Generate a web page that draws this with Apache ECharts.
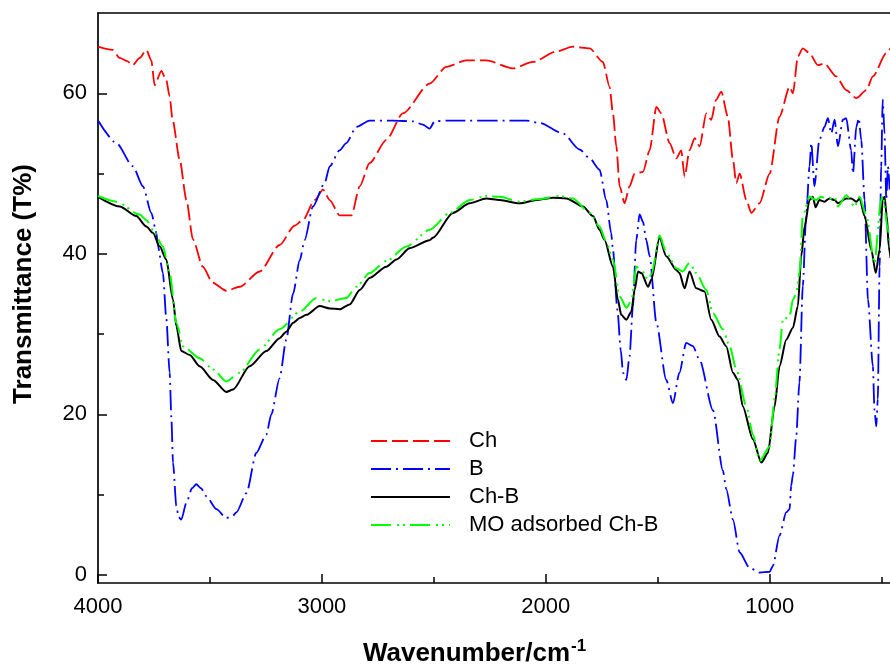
<!DOCTYPE html>
<html>
<head>
<meta charset="utf-8">
<script src="https://cdn.jsdelivr.net/npm/echarts/dist/echarts.min.js"></script>
<style>
html,body{margin:0;padding:0;background:#fff;}
#chart{width:890px;height:667px;}
</style>
</head>
<body>
<div id="chart"></div>
<script>
// ---- data (wavenumber cm^-1, transmittance %) ----
const seriesNames = ['Ch', 'B', 'Ch-B', 'MO adsorbed Ch-B'];

const chData = [
[4000,65.8],[3934,65.4],[3903,64.4],[3870,64.0],[3845,63.5],[3814,64.4],[3784,65.4],[3762,64.1],[3747,61.0],[3717,62.8],
[3695,61.6],[3680,59.6],[3667,56.7],[3635,51.7],[3605,46.7],[3576,41.8],[3532,38.4],[3488,36.4],[3427,35.4],[3367,35.9],
[3278,37.8],[3189,41.1],[3122,43.5],[3085,44.2],[3032,46.7],[2995,48.0],[2965,46.7],[2921,44.8],[2868,44.8],[2831,48.4],
[2787,51.3],[2712,54.2],[2638,57.5],[2519,61.2],[2444,63.3],[2355,64.1],[2266,64.1],[2147,63.1],[2057,63.9],[1953,65.2],
[1879,65.8],[1804,65.6],[1745,63.9],[1715,60.8],[1700,57.5],[1685,53.4],[1670,48.4],[1648,46.3],[1626,48.4],[1603,50.0],
[1566,50.2],[1536,52.9],[1506,58.3],[1484,57.5],[1447,53.8],[1417,51.9],[1395,52.9],[1380,49.6],[1358,52.9],[1335,54.4],
[1313,53.4],[1283,57.5],[1261,56.7],[1239,59.2],[1216,60.2],[1187,57.1],[1164,51.7],[1149,48.8],[1134,50.0],[1104,46.7],
[1082,45.1],[1045,46.3],[1000,50.0],[956,57.1],[911,60.8],[896,60.0],[874,64.6],[852,65.6],[822,65.0],[785,63.5],
[755,63.7],[703,62.1],[658,60.4],[613,59.4],[568,60.4],[539,62.1],[479,65.0],[460,65.6]
];

const bData = [
[4000,56.6],[3918,53.8],[3844,50.9],[3799,48.4],[3762,45.1],[3739,42.6],[3732,40.9],[3710,37.6],[3695,32.0],[3680,25.2],
[3672,19.4],[3665,14.0],[3650,8.6],[3640,7.2],[3628,6.9],[3605,9.0],[3580,10.8],[3561,11.3],[3540,10.8],[3516,9.8],
[3471,8.2],[3427,7.1],[3400,7.3],[3382,7.8],[3337,10.2],[3293,15.2],[3248,17.5],[3226,20.0],[3189,24.5],[3159,29.3],
[3129,35.0],[3099,39.2],[3077,41.7],[3040,45.9],[2988,48.8],[2965,50.9],[2921,52.9],[2891,53.8],[2846,55.8],[2787,56.6],
[2683,56.6],[2593,56.5],[2549,56.1],[2519,55.6],[2496,56.5],[2444,56.6],[2087,56.6],[2027,56.3],[1923,55.0],[1849,53.0],
[1804,51.9],[1760,50.5],[1730,46.7],[1708,42.6],[1700,40.5],[1680,33.0],[1665,28.0],[1655,25.2],[1640,24.3],[1626,27.2],
[1611,33.4],[1596,41.7],[1581,44.9],[1566,44.0],[1551,41.7],[1536,39.7],[1506,31.4],[1462,24.3],[1432,21.4],[1403,25.2],
[1373,28.9],[1343,28.5],[1313,26.8],[1253,20.5],[1209,13.0],[1194,10.7],[1164,6.9],[1134,2.8],[1090,0.9],[1045,0.3],
[1000,0.4],[986,1.1],[956,4.9],[926,7.8],[911,8.2],[904,11.1],[896,12.5],[882,17.0],[867,24.0],[852,36.0],
[837,44.7],[822,50.9],[814,53.8],[800,48.4],[778,54.2],[755,55.8],[740,56.9],[725,55.0],[710,56.7],[695,53.4],
[673,56.7],[658,56.9],[636,52.9],[628,50.0],[613,55.8],[602,56.9],[591,54.2],[576,46.7],[561,34.3],[539,26.0],
[532,20.6],[524,18.5],[517,21.9],[509,38.4],[502,50.9],[495,59.2],[487,55.0],[479,46.7],[472,50.9],[464,48.0]
];

const chbData = [
[4000,47.1],[3903,45.9],[3829,44.7],[3784,43.4],[3754,42.6],[3724,40.9],[3695,39.3],[3665,34.3],[3650,31.0],[3628,27.9],
[3590,27.4],[3546,26.0],[3486,24.3],[3427,22.8],[3397,23.1],[3323,26.0],[3248,27.9],[3189,29.5],[3159,30.3],[3129,31.4],
[3099,32.0],[3069,32.4],[3010,33.5],[2965,33.2],[2921,33.1],[2876,33.7],[2831,35.5],[2787,37.0],[2712,38.4],[2667,39.3],
[2608,40.7],[2519,41.7],[2504,42.0],[2415,45.1],[2340,46.3],[2266,46.9],[2206,46.7],[2117,46.3],[2042,46.7],[1968,47.0],
[1908,46.9],[1834,45.9],[1789,44.7],[1760,43.0],[1737,41.7],[1700,38.4],[1678,34.3],[1663,32.4],[1640,31.8],[1618,32.8],
[1603,35.5],[1588,37.8],[1573,37.6],[1543,35.9],[1528,36.8],[1492,42.0],[1462,39.7],[1417,38.0],[1403,37.6],[1380,35.7],
[1358,37.8],[1328,35.7],[1291,35.3],[1261,31.8],[1224,29.7],[1194,28.5],[1164,25.2],[1142,24.3],[1120,21.0],[1075,16.9],
[1037,14.0],[1008,15.2],[978,21.0],[956,26.0],[926,29.3],[896,30.8],[874,33.5],[859,39.7],[844,43.4],[822,46.7],
[807,47.1],[795,45.8],[778,46.7],[755,46.5],[733,46.9],[710,46.7],[695,46.3],[658,46.9],[636,46.9],[613,46.5],
[598,46.9],[576,44.7],[546,40.5],[526,37.6],[509,40.5],[495,46.7],[487,47.1],[477,44.7],[468,40.9],[460,39.5]
];

const moData = [
[4000,47.2],[3918,46.5],[3814,44.9],[3784,44.2],[3754,43.0],[3710,40.9],[3680,37.6],[3650,31.4],[3620,28.5],[3546,27.0],
[3486,25.6],[3427,24.1],[3367,25.2],[3278,28.1],[3189,30.6],[3099,32.8],[3025,34.5],[2965,34.1],[2891,34.5],[2846,35.9],
[2787,37.6],[2712,39.1],[2623,40.9],[2519,43.0],[2429,45.1],[2340,46.7],[2266,47.2],[2206,47.1],[2117,46.5],[2042,46.8],
[1938,47.2],[1879,46.9],[1804,45.1],[1760,43.4],[1730,41.5],[1700,39.3],[1670,34.7],[1640,33.3],[1618,34.1],[1596,38.4],
[1573,38.0],[1543,36.8],[1528,37.5],[1492,42.3],[1462,40.2],[1417,38.2],[1388,37.8],[1358,38.9],[1328,37.6],[1283,35.5],
[1253,32.6],[1209,30.6],[1179,28.5],[1149,25.6],[1104,21.0],[1075,17.5],[1045,14.2],[1000,16.0],[978,22.0],[956,28.1],
[941,31.8],[911,32.2],[896,34.3],[882,35.0],[867,37.6],[852,44.7],[822,47.1],[793,46.7],[771,47.1],[740,46.8],
[710,47.0],[695,45.9],[658,47.3],[621,45.9],[598,47.1],[568,44.7],[532,38.9],[502,46.7],[495,47.3],[472,43.0],[462,41.0]
];

const xMajorTicks = [4000, 3000, 2000, 1000];
const xMinorTicks = [3500, 2500, 1500, 500];
const yMajorTicks = [0, 20, 40, 60];
const yMinorTicks = [10, 30, 50];

// ---- chart ----
const FONT = '"Liberation Sans", Arial, sans-serif';
const chart = echarts.init(document.getElementById('chart'), null, {renderer: 'canvas'});

function mkSeries(name, data, color, type, width) {
  return {
    name: name, type: 'line', data: data, showSymbol: false, symbol: 'none',
    smooth: 0.25, smoothMonotone: 'x',
    lineStyle: {color: color, width: width, type: type, cap: 'butt'},
    itemStyle: {color: color},
    xAxisIndex: 0, yAxisIndex: 0, animation: false, silent: true
  };
}

const plain = v => String(v);

const option = {
  animation: false,
  backgroundColor: '#fff',
  grid: {left: 98, top: 13, width: 806, bottom: 84, show: false, containLabel: false, outerBoundsMode: 'none'},
  xAxis: [
    {type: 'value', inverse: true, min: 400, max: 4000, position: 'bottom',
     axisLine: {show: true, onZero: false, lineStyle: {color: '#000', width: 1.7}},
     axisTick: {show: true, inside: true, length: 9, customValues: xMajorTicks, lineStyle: {color: '#000', width: 1.5}},
     axisLabel: {show: true, customValues: xMajorTicks, formatter: plain, margin: 13, color: '#000', fontSize: 22, fontFamily: FONT},
     splitLine: {show: false}},
    {type: 'value', inverse: true, min: 400, max: 4000, position: 'bottom',
     axisLine: {show: false, onZero: false},
     axisTick: {show: true, inside: true, length: 6, customValues: xMinorTicks, lineStyle: {color: '#000', width: 1.5}},
     axisLabel: {show: false}, splitLine: {show: false}},
    {type: 'value', inverse: true, min: 400, max: 4000, position: 'top',
     axisLine: {show: true, onZero: false, lineStyle: {color: '#000', width: 1.7}},
     axisTick: {show: false}, axisLabel: {show: false}, splitLine: {show: false}}
  ],
  yAxis: [
    {type: 'value', min: -1, max: 70, position: 'left',
     axisLine: {show: true, onZero: false, lineStyle: {color: '#000', width: 1.7}},
     axisTick: {show: true, inside: true, length: 9, customValues: yMajorTicks, lineStyle: {color: '#000', width: 1.5}},
     axisLabel: {show: true, customValues: yMajorTicks, formatter: plain, margin: 11, color: '#000', fontSize: 22, fontFamily: FONT},
     splitLine: {show: false}},
    {type: 'value', min: -1, max: 70, position: 'left',
     axisLine: {show: false, onZero: false},
     axisTick: {show: true, inside: true, length: 6, customValues: yMinorTicks, lineStyle: {color: '#000', width: 1.5}},
     axisLabel: {show: false}, splitLine: {show: false}}
  ],
  legend: {
    data: seriesNames, orient: 'vertical', left: 370, top: 430, padding: 0,
    itemWidth: 79, itemHeight: 14, itemGap: 6,
    itemStyle: {color: 'rgba(0,0,0,0)', borderWidth: 0, opacity: 0},
    textStyle: {fontSize: 22, fontFamily: FONT, color: '#000', lineHeight: 22, padding: [0, 0, 0, 14]},
    selectedMode: false
  },
  graphic: [
    {type: 'text', x: 24, y: 284, rotation: Math.PI / 2,
     style: {text: 'Transmittance (T%)', font: 'bold 26px ' + FONT, fill: '#000', align: 'center', verticalAlign: 'middle'}},
    {type: 'text', x: 570, y: 654,
     style: {text: 'Wavenumber/cm', font: 'bold 26px ' + FONT, fill: '#000', align: 'right', verticalAlign: 'middle'}},
    {type: 'text', x: 571, y: 646,
     style: {text: '-1', font: 'bold 17px ' + FONT, fill: '#000', align: 'left', verticalAlign: 'middle'}}
  ],
  series: [
    mkSeries(seriesNames[0], chData, '#ff0000', [16, 5], 1.8),
    mkSeries(seriesNames[1], bData, '#0000ff', [20, 5, 2, 5], 1.8),
    mkSeries(seriesNames[2], chbData, '#000000', 'solid', 2),
    mkSeries(seriesNames[3], moData, '#00ff00', [20, 6, 2, 4, 2, 5], 2)
  ]
};
chart.setOption(option);
</script>
</body>
</html>
